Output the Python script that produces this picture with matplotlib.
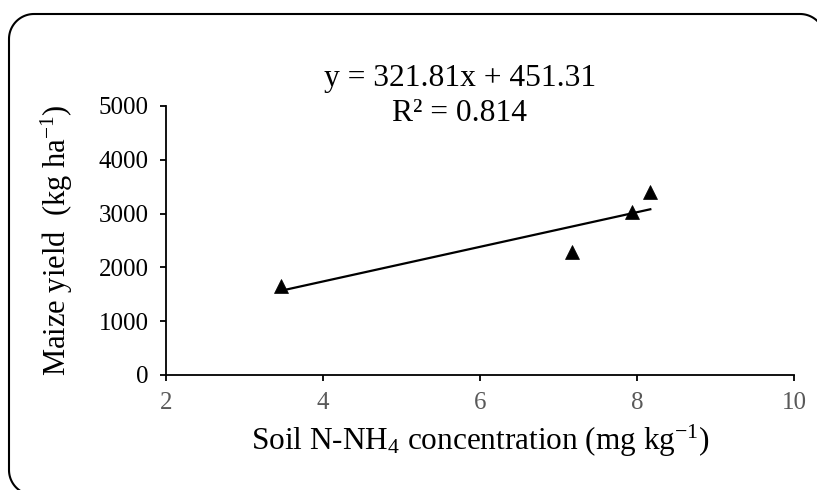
import matplotlib
matplotlib.use("Agg")
import matplotlib.pyplot as plt
import numpy as np
from matplotlib.lines import Line2D
from matplotlib.transforms import IdentityTransform

plt.rcParams['font.family'] = ['Liberation Serif', 'DejaVu Serif']
plt.rcParams['mathtext.fontset'] = 'custom'
plt.rcParams['mathtext.rm'] = 'Liberation Serif'
plt.rcParams['mathtext.it'] = 'Liberation Serif:italic'

# data
nh4 = [3.46, 7.17, 7.94, 8.17]
yield_kg = [1650, 2290, 3030, 3405]
slope, intercept = 321.81, 451.31
eq_text = "y = 321.81x + 451.31"
r2_text = "R² = 0.814"
x_ticks = [2, 4, 6, 8, 10]
y_ticks = [0, 1000, 2000, 3000, 4000, 5000]

fig = plt.figure(figsize=(8.17, 4.9), dpi=100)
ax = fig.add_axes([0.2032, 0.2347, 0.7686, 0.549])

# trendline over the data range
x_line = [min(nh4), max(nh4)]
y_line = [slope * v + intercept for v in x_line]
ax.plot(x_line, y_line, color='black', lw=1.6, zorder=2)
ax.plot(nh4, yield_kg, linestyle='none', marker='^', ms=10, color='black',
        mec='black', mew=0.5, zorder=3)

ax.set_xlim(2, 10)
ax.set_ylim(0, 5000)
ax.set_xticks(x_ticks)
ax.set_yticks(y_ticks)
for s in ['top', 'right']:
    ax.spines[s].set_visible(False)
for s in ['left', 'bottom']:
    ax.spines[s].set_linewidth(1.3)
ax.tick_params(direction='out', length=4.3, width=1.3, labelsize=18)
ax.tick_params(axis='y', pad=8, labelcolor='black')
ax.tick_params(axis='x', pad=8, labelcolor='#595959')

ax.set_xlabel("Soil N-NH$_4$ concentration (mg kg$^{-1}$)", fontsize=22.5, labelpad=6)
ax.set_ylabel("Maize yield  (kg ha$^{-1}$)", fontsize=22, labelpad=17)

fig.text(0.563, 0.839, eq_text, ha='center', va='center', fontsize=22.7)
fig.text(0.563, 0.769, r2_text, ha='center', va='center', fontsize=22.7)

# rounded chart-area border (pixel coords), cut off at right and bottom
r = 25
x0, x1, y0, y1 = 9, 825, -5, 476
t = np.linspace(0, np.pi / 2, 30)
xs = np.concatenate([x0 + r - r * np.sin(t), x0 + r - r * np.cos(t),
                     x1 - r + r * np.sin(t), [x1]])
ys = np.concatenate([y0 + r - r * np.cos(t), y1 - r + r * np.sin(t),
                     y1 - r + r * np.cos(t), [y0]])
fig.add_artist(Line2D(xs, ys, transform=IdentityTransform(), color='black', lw=1.5))

fig.savefig("out.png", dpi=100)
